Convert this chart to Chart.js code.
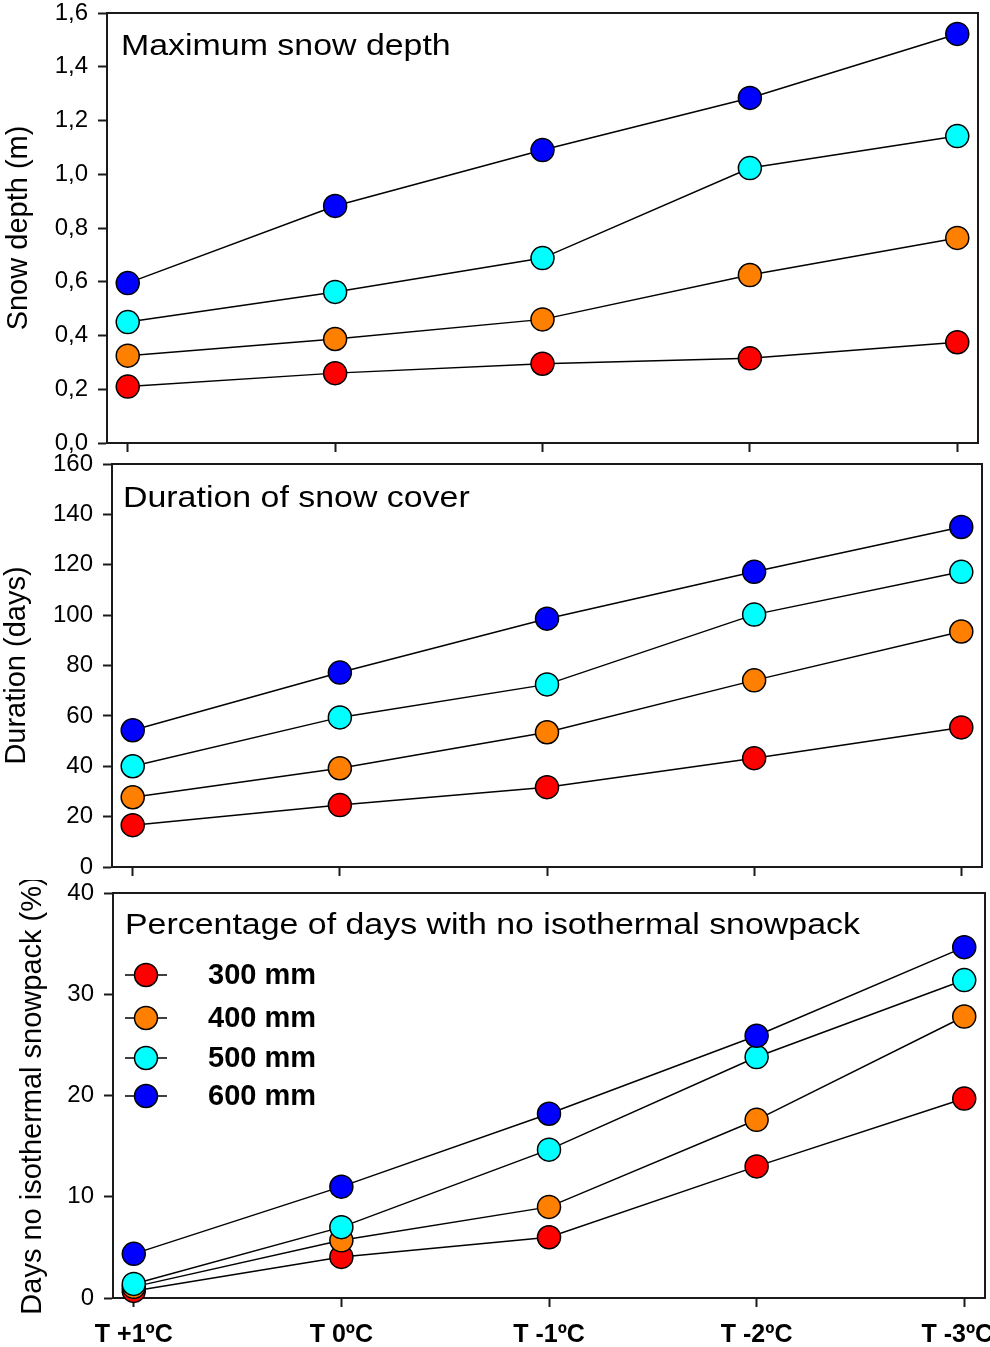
<!DOCTYPE html>
<html>
<head>
<meta charset="utf-8">
<script src="https://cdn.jsdelivr.net/npm/chart.js@4"></script>
<style>
  body { margin: 0; background: #fff; overflow: hidden; }
  #wrap { position: relative; width: 990px; height: 1347px; }
  canvas { position: absolute; left: 0; }
</style>
</head>
<body>
<div id="wrap">
  <canvas id="depthChart" width="990" height="470" style="top:0px"></canvas>
  <canvas id="durationChart" width="990" height="440" style="top:450px"></canvas>
  <canvas id="isoChart" width="990" height="467" style="top:880px"></canvas>
</div>
<script>
// scenarios on the x axis
const scenarios = ["T +1ºC", "T 0ºC", "T -1ºC", "T -2ºC", "T -3ºC"];
const seriesLabels = ["300 mm", "400 mm", "500 mm", "600 mm"];
const seriesColors = ["#ff0000", "#ff8000", "#00ffff", "#0000ff"];

// maximum snow depth (m)
const depth300 = [0.21, 0.26, 0.295, 0.315, 0.375];
const depth400 = [0.325, 0.387, 0.46, 0.625, 0.763];
const depth500 = [0.45, 0.562, 0.688, 1.023, 1.142];
const depth600 = [0.595, 0.882, 1.09, 1.284, 1.522];

// duration of snow cover (days)
const dur300 = [16.6, 24.6, 31.7, 43.2, 55.4];
const dur400 = [27.7, 39.2, 53.5, 74.1, 93.5];
const dur500 = [40.0, 59.4, 72.5, 100.2, 117.2];
const dur600 = [54.3, 77.2, 98.6, 117.2, 135.0];

// days with no isothermal snowpack (%)
const iso300 = [0.7, 4.06, 6.0, 13.0, 19.7];
const iso400 = [1.1, 5.7, 9.0, 17.6, 27.8];
const iso500 = [1.39, 7.0, 14.65, 23.8, 31.4];
const iso600 = [4.36, 11.0, 18.2, 25.9, 34.65];

const FONT = "'Liberation Sans', Arial, sans-serif";
const INK = "#1a1a1a";

function makeSets(arrays) {
  return arrays.map((vals, i) => ({
    label: seriesLabels[i],
    data: vals.map((v, k) => ({ x: k, y: v })),
    borderColor: "#000",
    borderWidth: 1.5,
    pointBackgroundColor: seriesColors[i],
    pointBorderColor: "#000",
    pointBorderWidth: 1.5,
    pointRadius: 11.5,
    pointHoverRadius: 11.5,
    order: 3 - i,
    clip: false,
  }));
}

// top + right sides of the box, and the panel caption
const framePlugin = {
  id: "frame",
  afterDraw(chart, args, opts) {
    const { ctx, chartArea: a } = chart;
    ctx.save();
    ctx.strokeStyle = INK;
    ctx.lineWidth = 2;
    ctx.beginPath();
    ctx.moveTo(a.left, a.top);
    ctx.lineTo(a.right, a.top);
    ctx.lineTo(a.right, a.bottom);
    ctx.stroke();
    // caption text in the figure is a bit wider than Arial
    ctx.translate(a.left + opts.dx, a.top + opts.dy);
    ctx.scale(1.13, 1);
    ctx.fillStyle = "#000";
    ctx.font = "30px " + FONT;
    ctx.textBaseline = "middle";
    ctx.fillText(opts.caption, 0, 0);
    ctx.restore();
  },
};

// legend drawn inside the bottom panel
const legendRows = [82, 125, 165, 203];
const insideLegend = {
  id: "insideLegend",
  afterDraw(chart, args, opts) {
    if (!opts.show) return;
    const { ctx, chartArea: a } = chart;
    ctx.save();
    chart.data.datasets.forEach((ds, i) => {
      const y = a.top + legendRows[i];
      const mx = a.left + 33;
      ctx.strokeStyle = "#000";
      ctx.lineWidth = 1.5;
      ctx.beginPath();
      ctx.moveTo(mx - 21, y);
      ctx.lineTo(mx + 21, y);
      ctx.stroke();
      ctx.beginPath();
      ctx.arc(mx, y, 11.5, 0, Math.PI * 2);
      ctx.fillStyle = ds.pointBackgroundColor;
      ctx.fill();
      ctx.stroke();
      ctx.fillStyle = "#000";
      ctx.font = "bold 29px " + FONT;
      ctx.textBaseline = "middle";
      ctx.fillText(ds.label, a.left + 95, y + 1);
    });
    ctx.restore();
  },
};

function xLabel(v) {
  // last label sits a little left of its tick so it stays on the page
  return v === scenarios.length - 1 ? scenarios[v] + "\u00a0\u00a0" : scenarios[v];
}

function panel(id, sets, y, o) {
  return new Chart(document.getElementById(id), {
    type: "line",
    data: { datasets: makeSets(sets) },
    plugins: [framePlugin, insideLegend],
    options: {
      responsive: false,
      animation: false,
      layout: { autoPadding: false, padding: { top: o.padTop, right: o.padRight, bottom: 0, left: 0 } },
      plugins: {
        legend: { display: false },
        tooltip: { enabled: false },
        frame: { caption: o.caption, dx: o.capDx, dy: o.capDy },
        insideLegend: { show: !!o.legend },
      },
      scales: {
        x: {
          type: "linear",
          min: -0.1,
          max: 4.1,
          afterBuildTicks: (s) => { s.ticks = scenarios.map((c, i) => ({ value: i })); },
          afterFit: (s) => { s.height = o.xHeight; s.paddingLeft = 0; s.paddingRight = 0; },
          grid: { drawOnChartArea: false, tickLength: 9, tickWidth: 2, color: INK },
          border: { display: true, width: 2, color: INK },
          ticks: {
            padding: 13,
            maxRotation: 0,
            autoSkip: false,
            color: "#000",
            font: { family: FONT, size: 25, weight: "bold" },
            callback: (v) => (o.xLabels ? xLabel(v) : ""),
          },
        },
        y: {
          min: y.min,
          max: y.max,
          afterBuildTicks: (s) => {
            const t = [];
            for (let v = y.min; v <= y.max + 1e-9; v += y.step) t.push({ value: +v.toFixed(2) });
            s.ticks = t;
          },
          afterFit: (s) => { s.width = o.yWidth; s.paddingTop = 0; s.paddingBottom = 0; },
          grid: { drawOnChartArea: false, tickLength: 9, tickWidth: 2, color: INK },
          border: { display: true, width: 2, color: INK },
          ticks: {
            padding: 10,
            color: "#000",
            font: { family: FONT, size: 24 },
            callback: y.fmt,
          },
          title: {
            display: true,
            text: o.yTitle,
            color: "#000",
            font: { family: FONT, size: 29, lineHeight: 1.2 },
            padding: { top: o.titlePad, bottom: 0 },
          },
        },
      },
    },
  });
}

panel("depthChart", [depth300, depth400, depth500, depth600],
  { min: 0, max: 1.6, step: 0.2, fmt: (v) => v.toFixed(1).replace(".", ",") },
  { padTop: 13, padRight: 12, xHeight: 27, yWidth: 107, yTitle: "Snow depth (m)", titlePad: 2,
    caption: "Maximum snow depth", capDx: 14, capDy: 34 });

panel("durationChart", [dur300, dur400, dur500, dur600],
  { min: 0, max: 160, step: 20, fmt: (v) => String(v) },
  { padTop: 14, padRight: 8, xHeight: 23, yWidth: 112, yTitle: "Duration (days)", titlePad: 0,
    caption: "Duration of snow cover", capDx: 11, capDy: 35 });

panel("isoChart", [iso300, iso400, iso500, iso600],
  { min: 0, max: 40, step: 10, fmt: (v) => String(v) },
  { padTop: 13, padRight: 5, xHeight: 49, yWidth: 113, yTitle: "Days no isothermal snowpack (%)", titlePad: 16,
    caption: "Percentage of days with no isothermal snowpack", capDx: 12, capDy: 33,
    legend: true, xLabels: true });
</script>
</body>
</html>
